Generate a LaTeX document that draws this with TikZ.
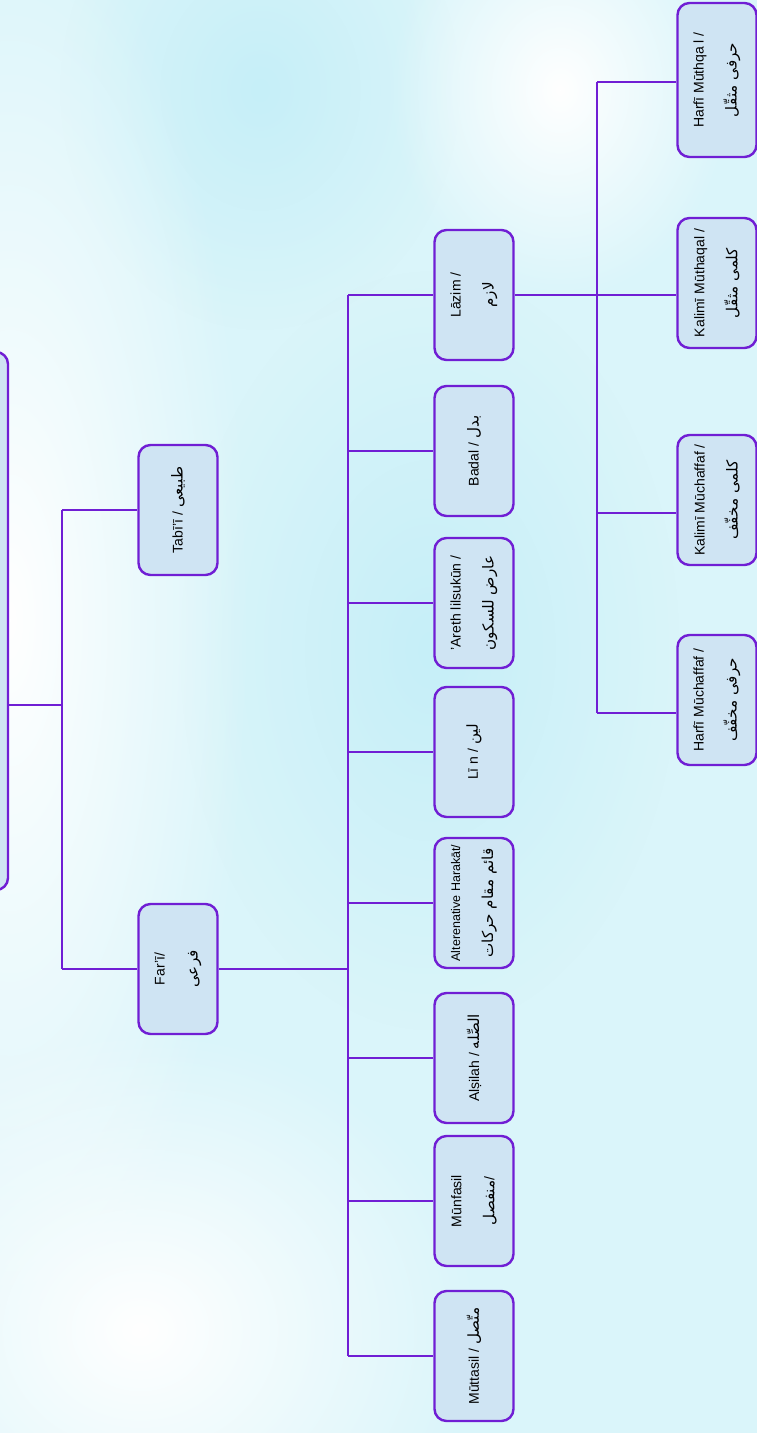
\documentclass[tikz,border=0pt]{standalone}
\usepackage{fontspec}
\setmainfont{Liberation Sans}
\newfontfamily\arfont[Script=Arabic,Scale=1.08]{DejaVu Sans}
\TeXXeTstate=1
\usetikzlibrary{fadings}
\definecolor{lnc}{RGB}{112,30,212}
\definecolor{boxc}{RGB}{207,228,243}
\definecolor{bgc}{RGB}{218,245,250}
\definecolor{bgd}{RGB}{198,239,248}
\newcommand{\AR}[1]{{\arfont\beginR #1\endR}}
\tikzfading[name=softdisc, inner color=transparent!0, outer color=transparent!100]
\begin{document}
\begin{tikzpicture}[x=1pt,y=-1pt,
  box/.style={draw=lnc, line width=2.4pt, fill=boxc, rounded corners=12pt, rotate=90,
    minimum width=130pt, minimum height=79pt, align=center, inner sep=2pt,
    font=\fontsize{14}{33}\selectfont},
  conn/.style={draw=lnc, line width=2.4pt}]
\useasboundingbox (0,0) rectangle (757,1433);
\clip (0,0) rectangle (757,1433);
% background
\fill[bgc] (0,0) rectangle (757,1433);
\fill[bgd, path fading=softdisc] (260,90) ellipse (200 and 240);
\fill[bgd, path fading=softdisc] (430,650) ellipse (250 and 380);
\fill[white, path fading=softdisc] (10,620) ellipse (240 and 720);
\fill[white, path fading=softdisc] (140,1330) ellipse (340 and 300);
\fill[white, path fading=softdisc] (560,90) ellipse (170 and 210);
% root (mostly off canvas)
\node[box, minimum width=538pt, minimum height=96pt] (root) at (-40,621) {};
% level 1
\node[box] (tabii) at (178,510) {Tabī'ī / \AR{طبیعی}};
\node[box] (fari) at (178,969) {Far'ī/\\ \AR{فرعی}};
% level 2
\node[box] (lazim) at (474,295) {Lāzim /\\ \AR{لازم}};
\node[box] (badal) at (474,451) {Badal / \AR{بدل}};
\node[box] (areth) at (474,603) {'Areth lilsukūn /\\ \AR{عارض للسكون}};
\node[box] (lin) at (474,752) {Lī n / \AR{لين}};
\node[box] (alt) at (474,903) {{\fontsize{12.5}{33}\selectfont Alterenative Harakāt/}\\ \AR{قائم مقام حركات}};
\node[box] (silah) at (474,1058) {Alṣilah / \AR{الصِّله}};
\node[box] (munf) at (474,1201) {Mūnfasil\\ \AR{منفصل}/};
\node[box] (mutt) at (474,1356) {Mūttasil / \AR{متّصل}};
% level 3
\node[box, minimum width=154pt] (hmuth) at (717,80) {Harfī Mūthqa l /\\ \AR{حرفی مثقّل}};
\node[box] (kmuth) at (717,283) {Kalimī Mūthaqal /\\ \AR{کلمی مثقّل}};
\node[box] (kmuch) at (717,500) {Kalimī Mūchaffaf /\\ \AR{کلمی مخفّف}};
\node[box] (hmuch) at (717,700) {Harfī Mūchaffaf /\\ \AR{حرفی مخفّف}};
% connectors
\coordinate (b0) at (62,705);
\coordinate (b1) at (348,969);
\coordinate (b2) at (597,295);
\coordinate (y1) at (0,82);
\coordinate (y2) at (0,295);
\coordinate (y3) at (0,513);
\coordinate (y4) at (0,713);
\draw[conn] (root.south |- b0) -- (b0);
\draw[conn] (b0 |- tabii) -- (b0 |- fari);
\draw[conn] (b0 |- tabii) -- (tabii.north);
\draw[conn] (b0 |- fari) -- (fari.north);
\draw[conn] (fari.south) -- (b1 |- fari);
\draw[conn] (b1 |- lazim) -- (b1 |- mutt);
\foreach \n in {lazim,badal,areth,lin,alt,silah,munf,mutt}
  \draw[conn] (b1 |- \n) -- (\n.north);
\draw[conn] (lazim.south) -- (b2 |- lazim);
\draw[conn] (b2 |- y1) -- (b2 |- y4);
\draw[conn] (b2 |- y1) -- (hmuth.north |- y1);
\draw[conn] (b2 |- y2) -- (kmuth.north |- y2);
\draw[conn] (b2 |- y3) -- (kmuch.north |- y3);
\draw[conn] (b2 |- y4) -- (hmuch.north |- y4);
\end{tikzpicture}
\end{document}
